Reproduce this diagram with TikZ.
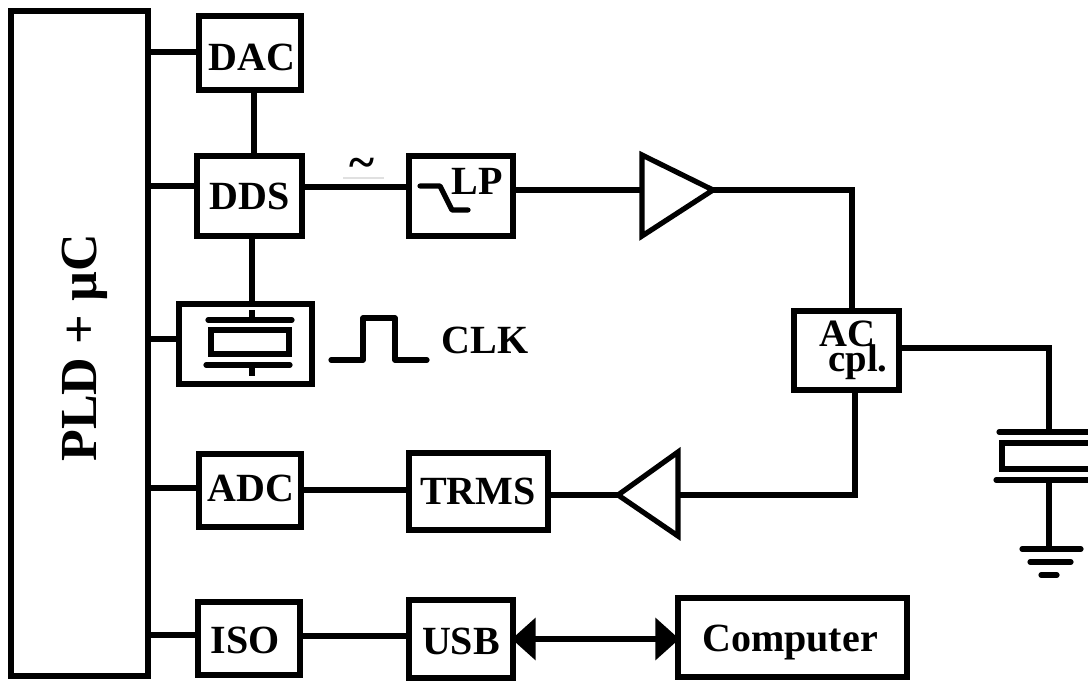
\documentclass[tikz,border=0pt]{standalone}
\usepackage{fontspec}
\setmainfont{Liberation Serif}
\usetikzlibrary{arrows.meta}
\tikzset{
  wire/.style={line width=4.5pt,line join=miter},
  thin wire/.style={line width=3.9pt,line cap=round},
  box/.style={draw,line width=4.5pt,outer sep=0pt,inner sep=0pt},
  txt/.style={inner sep=0pt,text depth=0pt,font=\fontsize{30}{30}\selectfont\bfseries},
  amp/.style={draw,line width=3.9pt,line join=miter,miter limit=10,fill=white},
  dbl/.style={line width=4.8pt,{Triangle[length=18pt,width=31pt]}-{Triangle[length=18pt,width=31pt]},shorten <=-1pt,shorten >=-1pt}
}
\begin{document}
\begin{tikzpicture}[x=0.75pt,y=-0.75pt]
\useasboundingbox (0,0) rectangle (1088,681);
% boxes
\node[box,minimum width=137*.75pt,minimum height=665*.75pt] (pld) at (79.5,343.5) {};
\node[txt,rotate=90,font=\fontsize{39}{39}\selectfont\bfseries] (pldt) at (79,348) {PLD + µC};
\node[box,minimum width=102*.75pt,minimum height=74*.75pt] (dac) at (250,53) {};
\node[txt] (dact) at (252,57) {DAC};
\node[box,minimum width=105*.75pt,minimum height=80*.75pt] (dds) at (249.5,196) {};
\node[txt] (ddst) at (250,196) {DDS};
\node[box,minimum width=104*.75pt,minimum height=80*.75pt] (lp) at (461,196) {};
\node[txt] (lpt) at (477,181) {LP};
\node[box,minimum width=133*.75pt,minimum height=80*.75pt] (clkbox) at (245.5,344) {};
\node[txt] (clk) at (485,340) {CLK};
\node[box,minimum width=105*.75pt,minimum height=79*.75pt] (ac) at (846.5,350.5) {};
\node[txt,font=\fontsize{29}{29}\selectfont\bfseries] (act) at (847,334) {AC};
\node[txt,font=\fontsize{29}{29}\selectfont\bfseries,text depth=.2em,text height=.6em] (cpl) at (858,368.5) {cpl.};
\node[box,minimum width=102*.75pt,minimum height=73*.75pt] (adc) at (250,490.5) {};
\node[txt] (adct) at (251,488) {ADC};
\node[box,minimum width=139*.75pt,minimum height=77*.75pt] (trms) at (478.5,491.5) {};
\node[txt] (trmst) at (478,491) {TRMS};
\node[box,minimum width=102*.75pt,minimum height=73*.75pt] (iso) at (249,638.5) {};
\node[txt] (isot) at (245,640) {ISO};
\node[box,minimum width=104*.75pt,minimum height=78*.75pt] (usb) at (461,639) {};
\node[txt] (usbt) at (461,641) {USB};
\node[box,minimum width=229*.75pt,minimum height=79*.75pt] (comp) at (792.5,637.5) {};
\node[txt] (compt) at (790,638) {Computer};
% tilde
\node[inner sep=0pt,font=\fontsize{36}{36}\selectfont\bfseries] (tilde) at (362,168) {\char`\~};
\draw[line width=0.8pt,black!12] (343,178) -- (384,178);
% PLD connectors
\draw[wire] (pld.east |- 0,52) -- (dac.west |- 0,52);
\draw[wire] (pld.east |- 0,186) -- (dds.west |- 0,186);
\draw[wire] (pld.east |- 0,339) -- (clkbox.west |- 0,339);
\draw[wire] (pld.east |- 0,488) -- (adc.west |- 0,488);
\draw[wire] (pld.east |- 0,635) -- (iso.west |- 0,635);
% vertical links
\draw[wire] (dac.south -| 254,0) -- (dds.north -| 254,0);
\draw[wire] (dds.south -| 252,0) -- (clkbox.north -| 252,0);
% horizontal chains
\draw[wire] (dds.east |- 0,187) -- (lp.west |- 0,187);
\draw[wire] (adc.east |- 0,490) -- (trms.west |- 0,490);
\draw[wire] (iso.east |- 0,636) -- (usb.west |- 0,636);
% amplifiers
\coordinate (a1in) at (642,190);
\coordinate (a1out) at (713,190);
\coordinate (a2in) at (678,495);
\coordinate (a2out) at (618,495);
\draw[wire] (lp.east |- a1in) -- (a1in);
\draw[wire] (a1out) -| (ac.north -| 852,0);
\draw[wire] (ac.south -| 855,0) |- (a2in);
\draw[wire] (trms.east |- a2out) -- (a2out);
\draw[amp] (642,155) -- (a1out) -- (642,236) -- cycle;
\draw[amp] (678,452) -- (a2out) -- (678,536) -- cycle;
% USB-Computer
\draw[dbl] (usb.east |- 0,639) -- (comp.west |- 0,639);
% LP symbol
\draw[thin wire,line join=round] (420,186) -- (440,186) -- (452,210) -- (468,210);
% crystal in CLK box
\draw[thin wire] (208,320) -- (292,320);
\draw[thin wire] (206,365) -- (290,365);
\draw[line width=4.5pt] (211,330) rectangle (289,354);
\draw[line width=3.9pt] (252,310) -- (252,320);
\draw[line width=3.9pt] (252,365) -- (252,376);
% pulse
\draw[thin wire,line join=round] (331,360) -- (363,360) -- (363,318) -- (395,318) -- (395,360) -- (427,360);
% DUT crystal and ground
\coordinate (dutt) at (1049,432);
\coordinate (dutb) at (1049,480);
\coordinate (gnd) at (1049,549);
\draw[wire] (ac.east |- 0,348) -| (dutt);
\draw[thin wire] (999,432) -- (1095,432);
\draw[line width=4.5pt] (1002,443) rectangle (1100,469);
\draw[thin wire] (996,480) -- (1095,480);
\draw[wire] (dutb) -- (gnd);
\draw[thin wire] (1022,549) -- (1081,549);
\draw[thin wire] (1030,562) -- (1071,562);
\draw[thin wire] (1041,575) -- (1057,575);
\end{tikzpicture}
\end{document}
